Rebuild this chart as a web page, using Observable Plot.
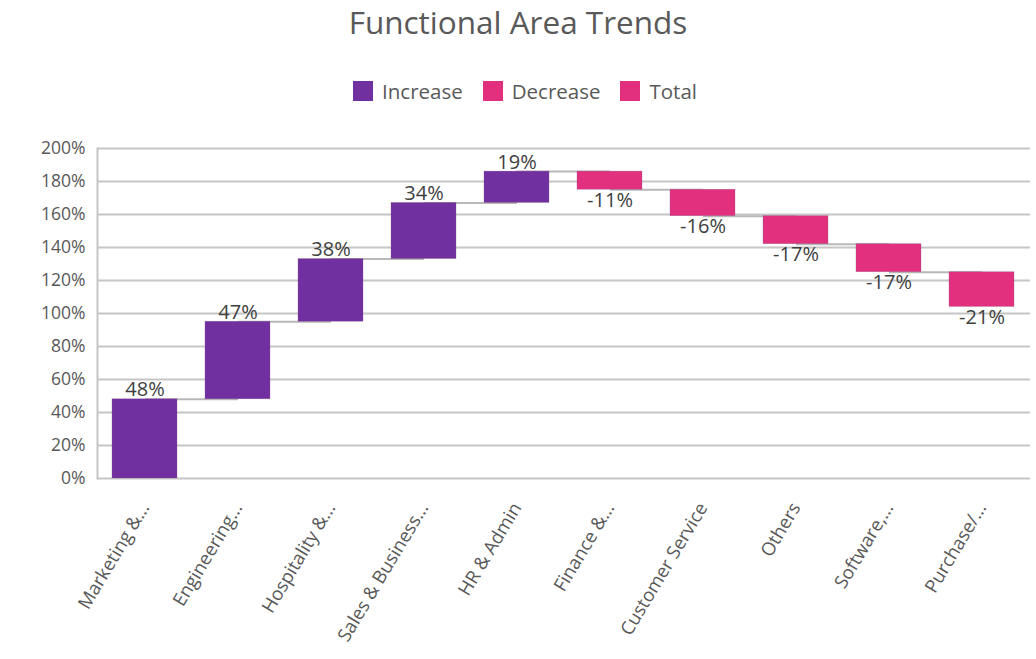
<!DOCTYPE html>
<html>
<head>
<meta charset="utf-8">
<script src="https://cdn.jsdelivr.net/npm/d3@7"></script>
<script src="https://cdn.jsdelivr.net/npm/@observablehq/plot@0.6"></script>
<style>
  html, body { margin: 0; padding: 0; background: #fff; }
  body { width: 1036px; height: 659px; overflow: hidden; font-family: "Open Sans", "Noto Sans", sans-serif; }
  #title { position: absolute; top: 0px; left: 0; width: 1036px; text-align: center; font-size: 31.5px; color: #595959; }
  #legend { position: absolute; top: 77px; left: 0; width: 1036px; display: flex; justify-content: center; gap: 20px; font-size: 20.5px; color: #595959; padding-left: 14px; box-sizing: border-box; }
  #legend .item { display: flex; align-items: center; gap: 9px; }
  #legend .sw { width: 20px; height: 20px; display: inline-block; }
  #chart { position: absolute; top: 120px; left: 0; }
</style>
</head>
<body>
<div id="title">Functional Area Trends</div>
<div id="legend"></div>
<div id="chart"></div>
<script>
const categories = ["Marketing &...", "Engineering...", "Hospitality &...", "Sales & Business...", "HR & Admin", "Finance &...", "Customer Service", "Others", "Software,...", "Purchase/..."];
const values = [48, 47, 38, 34, 19, -11, -16, -17, -17, -21];
const seriesNames = ["Increase", "Decrease", "Total"];
const seriesColors = ["#7030a0", "#e2307f", "#e2307f"];
const yTicks = [0, 20, 40, 60, 80, 100, 120, 140, 160, 180, 200];

let cum = 0;
const data = categories.map((c, i) => {
  const start = cum;
  cum += values[i];
  return { cat: c, value: values[i], start: start / 100, end: cum / 100, type: values[i] >= 0 ? "Increase" : "Decrease" };
});
const connectors = data.slice(0, -1).map((d, i) => ({ x1: d.cat, x2: data[i + 1].cat, y: d.end }));

const legend = document.getElementById("legend");
seriesNames.forEach((n, i) => {
  const it = document.createElement("div");
  it.className = "item";
  it.innerHTML = `<span class="sw" style="background:${seriesColors[i]}"></span><span>${n}</span>`;
  legend.appendChild(it);
});

const chart = Plot.plot({
  width: 1036,
  height: 539,
  marginTop: 28,
  marginBottom: 181,
  marginLeft: 97,
  marginRight: 6,
  style: { fontFamily: "'Open Sans', 'Noto Sans', sans-serif", fontSize: "17px", color: "#595959", background: "#fff" },
  x: { domain: categories, paddingInner: 0.3, paddingOuter: 0.15, label: null },
  y: { domain: [0, 2], label: null },
  color: { domain: seriesNames, range: seriesColors },
  marks: [
    Plot.gridY(yTicks.map(t => t / 100), { stroke: "#c6c6c6", strokeWidth: 2, strokeOpacity: 1 }),
    Plot.frame({ anchor: "left", stroke: "#c6c6c6", strokeWidth: 2 }),
    Plot.axisY(yTicks.map(t => t / 100), { tickFormat: d3.format(".0%"), tickSize: 0, tickPadding: 12, fontSize: 17.5, fill: "#595959" }),
    Plot.axisX({ tickRotate: -59, tickSize: 0, tickPadding: 26, fontSize: 18.5, fill: "#595959" }),
    Plot.link(connectors, { x1: "x1", x2: "x2", y1: "y", y2: "y", stroke: "#b8b8b8", strokeWidth: 2 }),
    Plot.barY(data, { x: "cat", y1: "start", y2: "end", fill: "type", stroke: "#8a5a8a", strokeWidth: 0.6, strokeOpacity: 0.5 }),
    Plot.text(data.filter(d => d.value >= 0), { x: "cat", y: "end", text: d => d.value + "%", lineAnchor: "bottom", dy: -3, fontSize: 20, fill: "#404040" }),
    Plot.text(data.filter(d => d.value < 0), { x: "cat", y: "end", text: d => d.value + "%", lineAnchor: "top", dy: 3, fontSize: 20, fill: "#404040" }),
  ]
});
document.getElementById("chart").appendChild(chart);
</script>
</body>
</html>
